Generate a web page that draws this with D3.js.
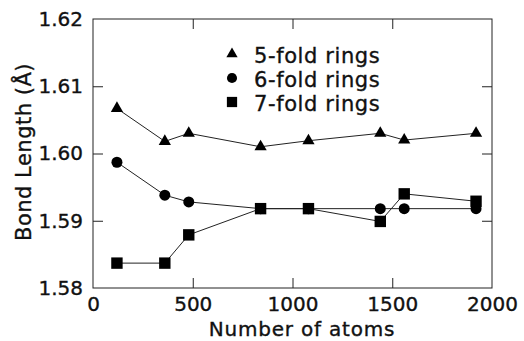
<!DOCTYPE html>
<html>
<head>
<meta charset="utf-8">
<script src="https://cdn.jsdelivr.net/npm/d3@7"></script>
<style>
  body { margin: 0; background: #fff; }
  svg { display: block; font-family: "DejaVu Sans", "Liberation Sans", Arial, sans-serif; }
  svg text { stroke: #111; stroke-width: 0.35px; }
</style>
</head>
<body>
<div id="chart"></div>
<script>
// data
const atoms = [120, 360, 480, 840, 1080, 1440, 1560, 1920];
const fiveFold = [1.6067, 1.6018, 1.6030, 1.6010, 1.6019, 1.6030, 1.6020, 1.6030];
const sixFold = [1.5987, 1.5938, 1.5928, 1.5918, 1.5918, 1.5918, 1.5918, 1.5918];
const sevenFold = [1.5837, 1.5837, 1.5879, 1.5918, 1.5918, 1.5899, 1.5940, 1.5929];
const seriesNames = ["5-fold rings", "6-fold rings", "7-fold rings"];
const xTicks = [0, 500, 1000, 1500, 2000];
const yTicks = [1.58, 1.59, 1.60, 1.61, 1.62];

const width = 524, height = 341;
const margin = { top: 19, right: 32, bottom: 53, left: 93 };
const innerW = width - margin.left - margin.right;
const innerH = height - margin.top - margin.bottom;

const svg = d3.select("#chart").append("svg")
  .attr("width", width)
  .attr("height", height);

const g = svg.append("g").attr("transform", `translate(${margin.left},${margin.top})`);

const x = d3.scaleLinear().domain([0, 2000]).range([0, innerW]);
const y = d3.scaleLinear().domain([1.58, 1.62]).range([innerH, 0]);

// frame
g.append("rect")
  .attr("width", innerW)
  .attr("height", innerH)
  .attr("fill", "none")
  .attr("stroke", "#222")
  .attr("stroke-width", 1);

// axes, ticks pointing inward
const tickLen = 10;
const xb = g.append("g").attr("transform", `translate(0,${innerH})`)
  .call(d3.axisBottom(x).tickValues(xTicks).tickSize(-tickLen).tickPadding(9).tickFormat(d3.format("d")));
const xt = g.append("g")
  .call(d3.axisTop(x).tickValues(xTicks.slice(1, -1)).tickSize(-tickLen).tickFormat(""));
const yl = g.append("g")
  .call(d3.axisLeft(y).tickValues(yTicks).tickSize(-tickLen).tickPadding(10).tickFormat(d3.format(".2f")));
const yr = g.append("g").attr("transform", `translate(${innerW},0)`)
  .call(d3.axisRight(y).tickValues(yTicks.slice(1, -1)).tickSize(-tickLen).tickFormat(""));

[xb, xt, yl, yr].forEach(a => {
  a.select(".domain").remove();
  a.selectAll(".tick line").attr("stroke", "#222");
  a.selectAll("text")
    .attr("fill", "#111")
    .style("font-family", "DejaVu Sans")
    .style("font-size", "20px");
});
xb.selectAll(".tick").filter(d => d === 0 || d === 2000).select("line").remove();
yl.selectAll(".tick").filter(d => d === 1.58 || d === 1.62).select("line").remove();

// axis titles
svg.append("text")
  .attr("x", 302)
  .attr("y", 336)
  .attr("text-anchor", "middle")
  .style("font-size", "20px")
  .style("letter-spacing", "0.8px")
  .attr("fill", "#111")
  .text("Number of atoms");

svg.append("text")
  .attr("transform", "translate(31,152) rotate(-90)")
  .attr("text-anchor", "middle")
  .style("font-size", "21px")
  .style("letter-spacing", "0.5px")
  .attr("fill", "#111")
  .text("Bond Length (Å)");

const symbols = [d3.symbolTriangle, d3.symbolCircle, d3.symbolSquare];
const sizes = [65, 95, 130];
const allSeries = [fiveFold, sixFold, sevenFold];

const line = d3.line()
  .x(d => x(d[0]))
  .y(d => y(d[1]));

allSeries.forEach((vals, i) => {
  const pts = atoms.map((a, j) => [a, vals[j]]);
  g.append("path")
    .datum(pts)
    .attr("fill", "none")
    .attr("stroke", "#222")
    .attr("stroke-width", 1)
    .attr("d", line);

  g.selectAll(".pt" + i)
    .data(pts)
    .enter()
    .append("path")
    .attr("class", "pt" + i)
    .attr("transform", d => `translate(${x(d[0])},${y(d[1])})`)
    .attr("d", d3.symbol().type(symbols[i]).size(sizes[i]))
    .attr("fill", "#000");
});

// legend
const legend = svg.append("g").attr("transform", "translate(232,54)");
seriesNames.forEach((name, i) => {
  const row = legend.append("g").attr("transform", `translate(0,${i * 24})`);
  row.append("path")
    .attr("d", d3.symbol().type(symbols[i]).size([55, 80, 105][i]))
    .attr("fill", "#000");
  row.append("text")
    .attr("x", 22)
    .attr("y", 9)
    .style("font-size", "21px")
    .style("letter-spacing", "0.6px")
    .attr("fill", "#111")
    .text(name);
});
</script>
</body>
</html>
